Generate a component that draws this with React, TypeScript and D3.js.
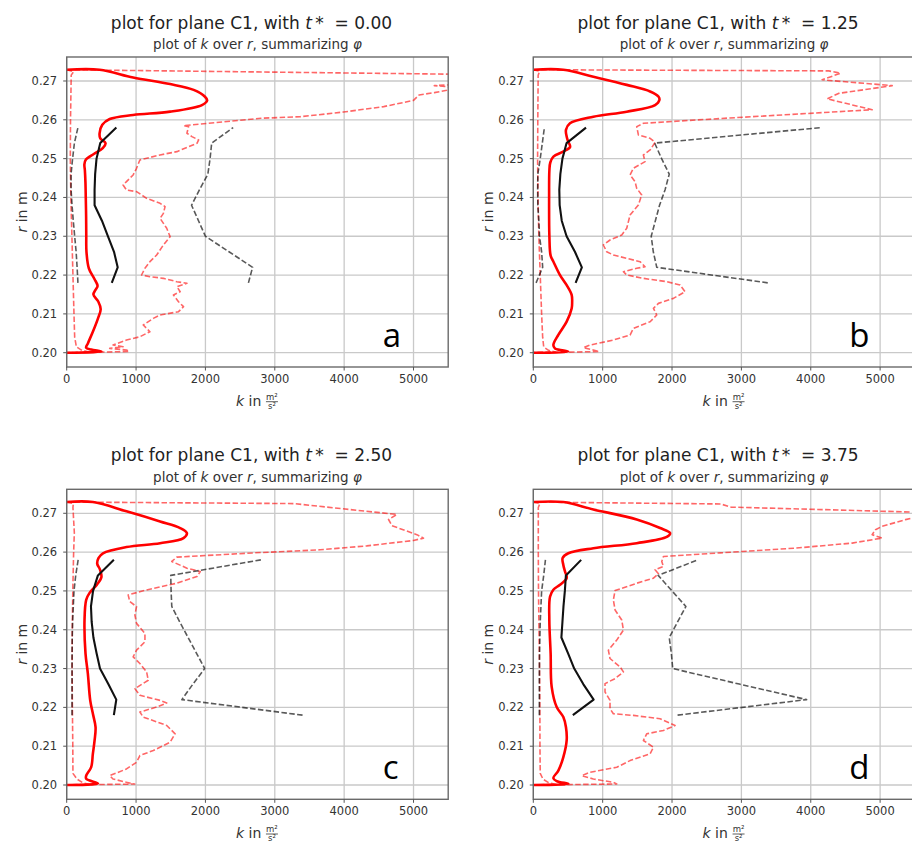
import React from 'react';
import * as d3 from 'd3';

// ---------------- data ----------------
const T_STAR = ['0.00', '1.25', '2.50', '3.75'];
const PANEL_LETTERS = ['a', 'b', 'c', 'd'];
const K_TICKS = [0, 1000, 2000, 3000, 4000, 5000];
const R_TICKS = [0.2, 0.21, 0.22, 0.23, 0.24, 0.25, 0.26, 0.27];
const K_DOMAIN: [number, number] = [0, 5500];
const R_DOMAIN: [number, number] = [0.19632, 0.27618];

// radii of the coarse (black) profiles
const R_COARSE = [0.218, 0.222, 0.226, 0.23, 0.234, 0.238, 0.242, 0.246, 0.25, 0.254, 0.258];

// ---- panel a (t* = 0.00), fine profiles as [r, k]
const aRedMean: [number, number][] = [
  [0.2729, 0], [0.2729, 475], [0.2709, 958], [0.2692, 1491], [0.2677, 1830], [0.266, 1990], [0.265, 2025],
  [0.2638, 1950], [0.2621, 1491], [0.26125, 958], [0.2602, 620], [0.2587, 513], [0.2565, 474], [0.2552, 484],
  [0.254, 560], [0.2527, 520], [0.2512, 390], [0.2497, 275], [0.2485, 255], [0.247, 262], [0.244, 270],
  [0.24, 275], [0.235, 280], [0.23, 282], [0.226, 285], [0.2217, 320], [0.219, 400], [0.2172, 445], [0.2162, 415],
  [0.215, 385], [0.2132, 455], [0.2112, 490], [0.2088, 450], [0.2054, 377], [0.2024, 305], [0.2013, 280],
  [0.2008, 353], [0.2003, 500], [0.2, 0],
];
const aRedMax: [number, number][] = [
  [0.2729, 0], [0.2716, 6300], [0.27, 6100], [0.269, 5520], [0.2688, 5300], [0.2686, 5450], [0.2682, 5600],
  [0.2676, 5480], [0.267, 5300], [0.2664, 5080], [0.265, 5000], [0.2634, 4570], [0.262, 3990], [0.2608, 3365],
  [0.2604, 2800], [0.2585, 1684], [0.25825, 1757], [0.25653, 1733], [0.25567, 1805], [0.25481, 1902],
  [0.25395, 1878], [0.2518, 1588], [0.25095, 1346], [0.24966, 1055], [0.24751, 1007], [0.24579, 958],
  [0.24407, 862], [0.24321, 813], [0.24192, 862], [0.2415, 1007], [0.23978, 1152], [0.23849, 1346],
  [0.23763, 1418], [0.23591, 1394], [0.23462, 1346], [0.23205, 1442], [0.2299, 1491], [0.22775, 1394],
  [0.22517, 1297], [0.22345, 1200], [0.22174, 1128], [0.22002, 1079], [0.21959, 1200], [0.21916, 1394],
  [0.2183, 1588], [0.21787, 1733], [0.21701, 1588], [0.21572, 1636], [0.21486, 1539], [0.21314, 1612],
  [0.21186, 1684], [0.21057, 1612], [0.20971, 1346], [0.20885, 1249], [0.20713, 1104], [0.20541, 1200],
  [0.20412, 1055], [0.20326, 862], [0.20198, 668], [0.20155, 813], [0.20112, 620], [0.20069, 862],
  [0.2003, 900], [0.2, 0],
];
const aRedMin: [number, number][] = [
  [0.2729, 0], [0.2724, 100], [0.2715, 65], [0.26, 55], [0.25, 52], [0.24, 60], [0.23, 75], [0.22, 90],
  [0.21, 105], [0.204, 115], [0.2015, 140], [0.2006, 220], [0.2002, 320], [0.2, 0],
];
const aBlackMean = [650, 735, 682, 595, 508, 402, 402, 410, 430, 484, 716];
const aBlackMin = [162, 150, 136, 115, 95, 77, 63, 63, 85, 111, 162];
const aBlackMax = [2620, 2680, 2340, 2000, 1900, 1800, 1915, 2035, 2067, 2090, 2400];

// ---- panel b (t* = 1.25)
const bRedMean: [number, number][] = [
  [0.2729, 0], [0.2729, 433], [0.2711, 866], [0.269, 1347], [0.2673, 1684], [0.266, 1804], [0.2651, 1818],
  [0.2638, 1756], [0.2621, 1347], [0.2608, 866], [0.2591, 529], [0.2574, 471], [0.2557, 481], [0.2545, 500],
  [0.253, 530], [0.2518, 430], [0.2505, 290], [0.249, 245], [0.247, 232], [0.24, 228], [0.23, 232],
  [0.225, 250], [0.2235, 289], [0.22, 385], [0.2174, 481], [0.2149, 553], [0.213, 560], [0.2114, 553],
  [0.208, 481], [0.2046, 361], [0.202, 289], [0.2011, 313], [0.2003, 500], [0.2, 0],
];
const bRedMax: [number, number][] = [
  [0.2729, 0], [0.2726, 4260], [0.272, 4428], [0.2703, 4164], [0.2688, 5174], [0.2668, 4400], [0.2654, 4236],
  [0.2626, 4885], [0.2602, 2577], [0.2591, 1587], [0.25825, 1491], [0.2561, 1515], [0.25524, 1684],
  [0.2542, 1756], [0.25223, 1684], [0.25095, 1587], [0.24923, 1611], [0.24751, 1443], [0.24579, 1395],
  [0.24407, 1467], [0.24235, 1491], [0.24064, 1563], [0.23806, 1515], [0.23548, 1395], [0.23205, 1347],
  [0.23033, 1275], [0.22904, 1106], [0.22775, 1010], [0.22603, 1058], [0.22517, 1154], [0.22431, 1347],
  [0.22345, 1539], [0.22216, 1611], [0.22174, 1491], [0.22088, 1299], [0.22002, 1347], [0.21916, 1587],
  [0.2183, 1924], [0.21744, 2116], [0.21572, 2188], [0.214, 2020], [0.21271, 1804], [0.21143, 1732],
  [0.20971, 1780], [0.20799, 1684], [0.20627, 1443], [0.20455, 1395], [0.20326, 1154], [0.20198, 818],
  [0.20129, 722], [0.20069, 866], [0.2003, 950], [0.2, 0],
];
const bRedMin: [number, number][] = [
  [0.2729, 0], [0.2725, 90], [0.2715, 70], [0.26, 65], [0.25, 62], [0.24, 68], [0.23, 80], [0.22, 100],
  [0.21, 120], [0.204, 135], [0.2015, 150], [0.2006, 220], [0.2002, 320], [0.2, 0],
];
const bBlackMean = [610, 700, 600, 480, 410, 380, 375, 390, 420, 480, 760];
const bBlackMin = [40, 135, 120, 90, 80, 65, 63, 65, 100, 130, 160];
const bBlackMax = [3380, 1780, 1730, 1700, 1760, 1820, 1900, 1960, 1850, 1750, 4150];

// ---- panel c (t* = 2.50)
const cRedMean: [number, number][] = [
  [0.2729, 0], [0.2729, 377], [0.2705, 862], [0.2679, 1346], [0.2662, 1636], [0.2649, 1733], [0.2636, 1684],
  [0.2623, 1346], [0.2613, 862], [0.2597, 523], [0.2585, 460], [0.257, 440], [0.2555, 480], [0.2535, 500],
  [0.2515, 430], [0.2495, 330], [0.2477, 281], [0.2425, 257], [0.2339, 271], [0.2287, 305], [0.2218, 339],
  [0.2184, 377], [0.2149, 416], [0.2115, 402], [0.208, 377], [0.2046, 353], [0.2024, 281], [0.2016, 281],
  [0.2004, 450], [0.2, 0],
];
const cRedMax: [number, number][] = [
  [0.2729, 0], [0.2725, 3270], [0.2697, 4760], [0.2684, 4640], [0.2668, 4690], [0.2645, 5048], [0.2636, 5144],
  [0.263, 5000], [0.2616, 4327], [0.2606, 3654], [0.2598, 2700], [0.25871, 1588], [0.25759, 1515],
  [0.25586, 1733], [0.255, 1926], [0.2537, 1878], [0.25198, 1588], [0.25026, 1152], [0.24897, 886],
  [0.24724, 910], [0.24595, 1007], [0.24379, 983], [0.24164, 1007], [0.23905, 1128], [0.2369, 1128],
  [0.23474, 1007], [0.23302, 958], [0.23129, 1055], [0.22914, 1152], [0.22698, 1176], [0.22483, 983],
  [0.2231, 1055], [0.22181, 1346], [0.22112, 1442], [0.22009, 1297], [0.21879, 1055], [0.2175, 1104],
  [0.21534, 1442], [0.21319, 1563], [0.21103, 1491], [0.20888, 1249], [0.20759, 1055], [0.20586, 1007],
  [0.20414, 862], [0.20241, 620], [0.20155, 668], [0.20069, 862], [0.20026, 980], [0.2, 0],
];
const cRedMin: [number, number][] = [
  [0.2729, 0], [0.2725, 95], [0.2715, 90], [0.265, 110], [0.26, 100], [0.25, 88], [0.24, 80], [0.23, 78],
  [0.22, 82], [0.21, 88], [0.203, 90], [0.2015, 150], [0.2006, 230], [0.2002, 320], [0.2, 0],
];
const cBlackMean = [680, 715, 600, 480, 430, 385, 360, 350, 380, 450, 680];
const cBlackMin = [77, 77, 77, 77, 78, 80, 85, 95, 105, 130, 165];
const cBlackMax = [3400, 1660, 1820, 1990, 1870, 1750, 1630, 1515, 1505, 1500, 2800];

// ---- panel d (t* = 3.75)
const dRedMean: [number, number][] = [
  [0.2729, 0], [0.2729, 433], [0.271, 866], [0.2684, 1491], [0.2662, 1828], [0.2649, 1972], [0.2639, 1924],
  [0.2623, 1491], [0.261, 866], [0.2597, 505], [0.2585, 423], [0.2567, 433], [0.255, 457], [0.2533, 481],
  [0.2516, 385], [0.2503, 289], [0.2485, 241], [0.2425, 231], [0.2339, 250], [0.2253, 265], [0.2201, 337],
  [0.2175, 433], [0.2149, 471], [0.2115, 481], [0.2072, 433], [0.2037, 361], [0.2018, 289], [0.201, 337],
  [0.2003, 505], [0.2, 0],
];
const dRedMax: [number, number][] = [
  [0.2729, 0], [0.2724, 2700], [0.2716, 2850], [0.2703, 5500], [0.2697, 6300], [0.269, 5600], [0.26878, 5463],
  [0.26837, 5366], [0.26664, 5030], [0.26578, 4933], [0.2645, 4885], [0.26362, 5030], [0.26232, 4597],
  [0.26103, 3779], [0.2598, 2700], [0.25888, 1876], [0.25759, 1852], [0.25629, 1876], [0.25543, 1756],
  [0.2544, 1804], [0.25328, 1732], [0.25198, 1491], [0.25009, 1179], [0.24767, 1154], [0.24509, 1179],
  [0.2425, 1275], [0.23991, 1299], [0.23733, 1203], [0.23474, 1082], [0.23259, 1106], [0.23043, 1251],
  [0.22914, 1299], [0.22741, 1179], [0.22612, 1034], [0.22397, 1034], [0.22181, 1106], [0.21966, 1106],
  [0.21836, 1154], [0.21793, 1443], [0.21707, 1828], [0.21534, 2044], [0.21405, 1876], [0.21319, 1635],
  [0.21147, 1587], [0.20974, 1732], [0.20802, 1684], [0.20629, 1395], [0.20457, 1203], [0.20328, 818],
  [0.20241, 698], [0.20155, 866], [0.20069, 1155], [0.20026, 1203], [0.2, 0],
];
const dRedMin: [number, number][] = [
  [0.2729, 0], [0.2725, 95], [0.2715, 72], [0.26, 72], [0.25, 75], [0.24, 82], [0.23, 90], [0.22, 95],
  [0.21, 96], [0.203, 100], [0.2015, 140], [0.2006, 220], [0.2002, 320], [0.2, 0],
];
const dBlackMean = [570, 870, 720, 590, 500, 405, 420, 435, 455, 470, 690];
const dBlackMin = [87, 87, 87, 88, 90, 95, 100, 110, 120, 150, 175];
const dBlackMax = [2080, 3940, 2970, 2010, 1990, 1960, 2080, 2200, 2000, 1800, 2370];

const SERIES = [
  { redMean: aRedMean, redMax: aRedMax, redMin: aRedMin, bMean: aBlackMean, bMin: aBlackMin, bMax: aBlackMax },
  { redMean: bRedMean, redMax: bRedMax, redMin: bRedMin, bMean: bBlackMean, bMin: bBlackMin, bMax: bBlackMax },
  { redMean: cRedMean, redMax: cRedMax, redMin: cRedMin, bMean: cBlackMean, bMin: cBlackMin, bMax: cBlackMax },
  { redMean: dRedMean, redMax: dRedMax, redMin: dRedMin, bMean: dBlackMean, bMin: dBlackMin, bMax: dBlackMax },
];

// ---------------- layout ----------------
const COL_X = [66.7, 533.3];
const ROW_Y = [57, 489.3];
const PLOT_W = 381.5;
const PLOT_H = 310;
const FONT = 'DejaVu Sans, sans-serif';
const DASH = '5.5 2.4';

type P = [number, number];

function Panel({ idx }: { idx: number }) {
  const left = COL_X[idx % 2];
  const top = ROW_Y[Math.floor(idx / 2)];
  const right = left + PLOT_W;
  const bottom = top + PLOT_H;
  const cx = (left + right) / 2;
  const x = d3.scaleLinear().domain(K_DOMAIN).range([left, right]);
  const y = d3.scaleLinear().domain(R_DOMAIN).range([bottom, top]);
  const s = SERIES[idx];
  const line = d3.line<P>().x((d) => x(d[1])).y((d) => y(d[0]));
  const smooth = d3.line<P>().x((d) => x(d[1])).y((d) => y(d[0])).curve(d3.curveCatmullRom.alpha(0.5));
  const coarse = (vals: number[]): P[] => R_COARSE.map((r, i) => [r, vals[i]] as P);
  const clipId = `clip-${idx}`;
  const fmt = d3.format('.2f');

  return (
    <g>
      <defs>
        <clipPath id={clipId}>
          <rect x={left} y={top} width={PLOT_W} height={PLOT_H} />
        </clipPath>
      </defs>
      <rect x={left} y={top} width={PLOT_W} height={PLOT_H} fill="white" />
      {/* grid */}
      {K_TICKS.map((k) => (
        <line key={'gx' + k} x1={x(k)} x2={x(k)} y1={top} y2={bottom} stroke="#c9c9c9" strokeWidth={1.3} />
      ))}
      {R_TICKS.map((r) => (
        <line key={'gy' + r} x1={left} x2={right} y1={y(r)} y2={y(r)} stroke="#c9c9c9" strokeWidth={1.3} />
      ))}
      <g clipPath={`url(#${clipId})`} fill="none" strokeLinejoin="round">
        <path d={line(s.redMax) || ''} stroke="red" strokeOpacity={0.6} strokeWidth={1.6} strokeDasharray={DASH} />
        <path d={line(s.redMin) || ''} stroke="red" strokeOpacity={0.6} strokeWidth={1.6} strokeDasharray={DASH} />
        <path d={line(coarse(s.bMax)) || ''} stroke="black" strokeOpacity={0.65} strokeWidth={1.6} strokeDasharray={DASH} />
        <path d={line(coarse(s.bMin)) || ''} stroke="black" strokeOpacity={0.65} strokeWidth={1.6} strokeDasharray={DASH} />
        <path d={smooth(s.redMean) || ''} stroke="red" strokeWidth={2.6} />
        <path d={line(coarse(s.bMean)) || ''} stroke="#111" strokeWidth={2.1} />
      </g>
      {/* frame */}
      <rect x={left} y={top} width={PLOT_W} height={PLOT_H} fill="none" stroke="#6a6a6a" strokeWidth={1.4} />
      {/* ticks */}
      {K_TICKS.map((k) => (
        <g key={'tx' + k}>
          <line x1={x(k)} x2={x(k)} y1={bottom} y2={bottom + 3.5} stroke="#555" strokeWidth={1} />
          <text x={x(k)} y={bottom + 16} textAnchor="middle" fontSize={11.5} fill="#333" fontFamily={FONT}>
            {k}
          </text>
        </g>
      ))}
      {R_TICKS.map((r) => (
        <g key={'ty' + r}>
          <line x1={left - 3.5} x2={left} y1={y(r)} y2={y(r)} stroke="#555" strokeWidth={1} />
          <text x={left - 9.5} y={y(r) + 4} textAnchor="end" fontSize={11.5} fill="#333" fontFamily={FONT}>
            {fmt(r)}
          </text>
        </g>
      ))}
      {/* titles */}
      <text x={cx - 6} y={top - 28} textAnchor="middle" fontSize={17} fill="#222" fontFamily={FONT}>
        {'plot for plane C1, with '}
        <tspan fontStyle="italic">t</tspan>
        {'\u2009*\u00A0\u00A0= ' + T_STAR[idx]}
      </text>
      <text x={cx} y={top - 7.7} textAnchor="middle" fontSize={13.5} fill="#333" fontFamily={FONT}>
        {'plot of '}
        <tspan fontStyle="italic">k</tspan>
        {' over '}
        <tspan fontStyle="italic">r</tspan>
        {', summarizing '}
        <tspan fontStyle="italic">φ</tspan>
      </text>
      {/* x label */}
      <text x={cx - 21.5} y={bottom + 39} textAnchor="start" fontSize={14} fill="#333" fontFamily={FONT}>
        <tspan fontStyle="italic">k</tspan>
        {' in'}
      </text>
      <text x={cx + 14.5} y={bottom + 33} textAnchor="middle" fontSize={8.5} fill="#333" fontFamily={FONT}>
        m²
      </text>
      <line x1={cx + 8.5} x2={cx + 20.5} y1={bottom + 34.7} y2={bottom + 34.7} stroke="#333" strokeWidth={0.8} />
      <text x={cx + 14.5} y={bottom + 41.5} textAnchor="middle" fontSize={8.5} fill="#333" fontFamily={FONT}>
        s²
      </text>
      {/* y label */}
      <text
        transform={`translate(${left - 40},${(top + bottom) / 2}) rotate(-90)`}
        textAnchor="middle"
        fontSize={14}
        fill="#333"
        fontFamily={FONT}
      >
        <tspan fontStyle="italic">r</tspan>
        {' in m'}
      </text>
      {/* panel letter */}
      <text x={left + 316} y={bottom - 20.5} fontSize={33} fill="#000" fontFamily="Open Sans, sans-serif">
        {PANEL_LETTERS[idx]}
      </text>
    </g>
  );
}

export default function App() {
  return (
    <div style={{ position: 'absolute', left: 0, top: 0 }}>
      <svg width={912} height={843} viewBox="0 0 912 843" style={{ display: 'block', background: 'white' }}>
        <rect width={912} height={843} fill="white" />
        {[0, 1, 2, 3].map((i) => (
          <Panel key={i} idx={i} />
        ))}
      </svg>
    </div>
  );
}
